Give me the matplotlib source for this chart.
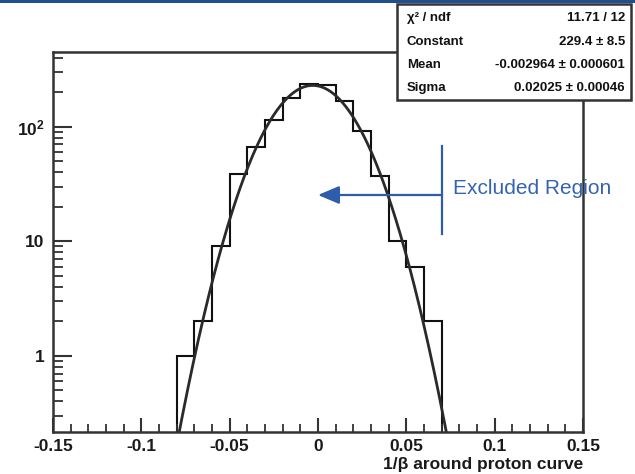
import numpy as np
import matplotlib
matplotlib.use("Agg")
import matplotlib.pyplot as plt
from matplotlib.patches import Rectangle
from matplotlib.ticker import FixedLocator, FixedFormatter, LogLocator, NullFormatter, MultipleLocator

plt.rcParams['font.family'] = ['Liberation Sans', 'DejaVu Sans']
plt.rcParams['mathtext.fontset'] = 'custom'
plt.rcParams['mathtext.rm'] = 'Liberation Sans:bold'
plt.rcParams['mathtext.default'] = 'rm'

# ---- data ----
bin_low = -0.08
bin_width = 0.01
counts = [1, 2, 9, 39, 67, 115, 178, 234, 232, 167, 91, 37, 10, 6, 2]
fit_constant = 229.4
fit_mean = -0.002964
fit_sigma = 0.02025
stats_names = ["χ² / ndf", "Constant", "Mean", "Sigma"]
stats_values = ["11.71 / 12", "229.4 ± 8.5", "-0.002964 ± 0.000601", "0.02025 ± 0.00046"]
xtick_vals = [-0.15, -0.1, -0.05, 0, 0.05, 0.1, 0.15]
xtick_labels = ["-0.15", "-0.1", "-0.05", "0", "0.05", "0.1", "0.15"]
ytick_vals = [1, 10, 100]
ytick_labels = ["1", "10", "10$^{2}$"]

W, H = 635, 474
fig = plt.figure(figsize=(W / 100, H / 100), dpi=100)

def fx(px):
    return px / W

def fy(py):
    return 1 - py / H

L, R, T, B = 53, 583, 52, 432
ax = fig.add_axes([fx(L), fy(B), fx(R) - fx(L), fy(T) - fy(B)])
ax.set_xlim(-0.15, 0.15)
ax.set_yscale('log')
ax.set_ylim(0.216, 449)

edges = bin_low + bin_width * np.arange(len(counts) + 1)
ax.stairs(counts, edges, baseline=1e-3, color='#111111', lw=1.5)

xf = np.linspace(-0.08, 0.08, 600)
yf = fit_constant * np.exp(-0.5 * ((xf - fit_mean) / fit_sigma) ** 2)
ax.plot(xf, yf, color='#2a2a2a', lw=2.0)

for s in ax.spines.values():
    s.set_linewidth(1.8)
    s.set_color('#333333')

ax.xaxis.set_major_locator(FixedLocator(xtick_vals))
ax.xaxis.set_major_formatter(FixedFormatter(xtick_labels))
ax.xaxis.set_minor_locator(MultipleLocator(0.01))
ax.yaxis.set_major_locator(FixedLocator(ytick_vals))
ax.yaxis.set_major_formatter(FixedFormatter(ytick_labels))
ax.yaxis.set_minor_locator(LogLocator(base=10, subs=np.arange(2, 10)))
ax.yaxis.set_minor_formatter(NullFormatter())

ax.tick_params(axis='x', which='major', direction='in', length=10, width=1.5, color='#333333',
               labelsize=12.5, pad=5, top=False)
ax.tick_params(axis='x', which='minor', direction='in', length=5.5, width=1.3, color='#333333', top=False)
ax.tick_params(axis='y', which='major', direction='in', length=14, width=1.5, color='#333333',
               labelsize=12.5, pad=6, right=False)
ax.tick_params(axis='y', which='minor', direction='in', length=7.5, width=1.3, color='#333333', right=False)
for lab in ax.get_xticklabels() + ax.get_yticklabels():
    lab.set_fontweight('bold')
    lab.set_color('#1a1a1a')

# x-axis title
fig.text(fx(583), fy(464), "1/β around proton curve", ha='right', va='center',
         fontsize=12.5, fontweight='bold', color='#1a1a1a')

# excluded region annotation
blue = '#2e5dab'
fig.add_artist(plt.Line2D([fx(442), fx(442)], [fy(146), fy(234)], color=blue, lw=1.6))
ax.annotate("", xy=(fx(318), fy(195)), xycoords='figure fraction',
            xytext=(fx(442), fy(195)), textcoords='figure fraction',
            arrowprops=dict(arrowstyle='-|>,head_length=1.3,head_width=0.55', color=blue, lw=1.6,
                            shrinkA=0, shrinkB=0))
fig.text(fx(453), fy(188), "Excluded Region", ha='left', va='center', fontsize=15, color='#3563b0')

# stats box
bx0, bx1, by0, by1 = 397, 631, 4, 100
fig.add_artist(Rectangle((fx(bx0), fy(by1)), fx(bx1) - fx(bx0), fy(by0) - fy(by1),
                         transform=fig.transFigure, facecolor='white', edgecolor='#333333',
                         lw=1.8, zorder=10))
rows_y = [18, 42, 65, 88]
for name, val, ry in zip(stats_names, stats_values, rows_y):
    fig.text(fx(407), fy(ry), name, ha='left', va='center', fontsize=9.5, fontweight='bold',
             color='#111111', zorder=11)
    fig.text(fx(625), fy(ry), val, ha='right', va='center', fontsize=9.5, fontweight='bold',
             color='#111111', zorder=11)

# slide header strip
fig.add_artist(Rectangle((0, fy(3)), 1, fy(0) - fy(3), transform=fig.transFigure,
                         facecolor='#1f4f8f', edgecolor='none', zorder=12))

fig.savefig("out.png", dpi=100)
